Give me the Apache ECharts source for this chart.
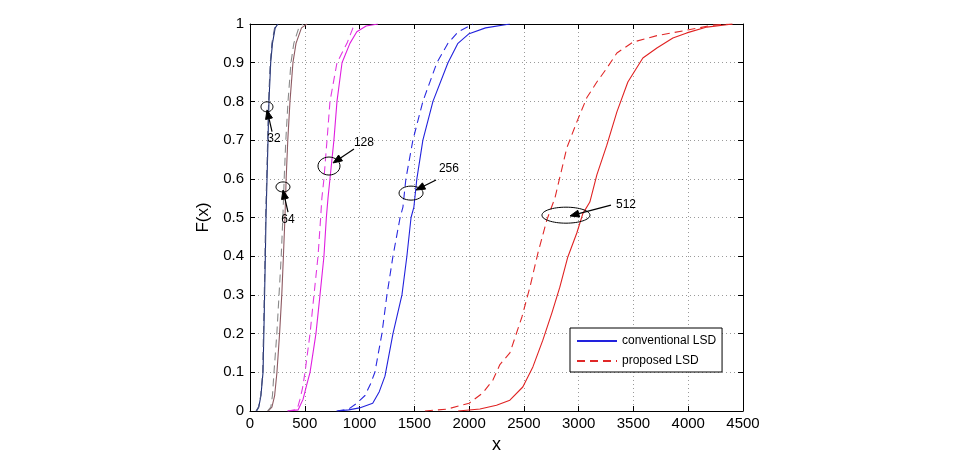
<!DOCTYPE html>
<html><head><meta charset="utf-8">
<script src="https://cdn.jsdelivr.net/npm/echarts@6/dist/echarts.min.js"></script>
<style>html,body{margin:0;padding:0;background:#fff}#c{width:964px;height:450px}</style>
</head><body><div id="c"></div><script>
// ---- data (x, F(x)) ----
const xTicks = [0,500,1000,1500,2000,2500,3000,3500,4000,4500];
const conv32 = [[60,0],[80,0.01],[100,0.04],[119,0.1],[130,0.25],[140,0.4],[146,0.5],[160,0.65],[173,0.8],[189,0.9],[205,0.95],[230,0.99],[255,1]];
const prop32 = [[55,0],[78,0.01],[98,0.04],[116,0.1],[127,0.25],[137,0.4],[143,0.5],[157,0.65],[170,0.8],[185,0.9],[200,0.95],[225,0.99],[250,1]];
const conv64 = [[165,0],[200,0.01],[225,0.04],[246,0.1],[270,0.2],[290,0.3],[305,0.4],[319,0.5],[330,0.6],[345,0.7],[365,0.8],[392,0.9],[420,0.95],[470,0.99],[520,1]];
const prop64 = [[160,0],[190,0.01],[205,0.04],[219,0.1],[245,0.2],[265,0.3],[285,0.4],[300,0.5],[312,0.6],[327,0.7],[347,0.8],[374,0.9],[400,0.95],[445,0.99],[485,1]];
const conv128 = [[347,0],[440,0.003],[484,0.03],[520,0.07],[548,0.1],[602,0.2],[639,0.3],[675,0.4],[697,0.5],[712,0.55],[730,0.6],[766,0.7],[794,0.8],[840,0.9],[912,0.95],[975,0.98],[1060,0.995],[1168,1]];
const prop128 = [[340,0],[430,0.004],[456,0.03],[480,0.06],[502,0.1],[548,0.2],[584,0.3],[621,0.4],[645,0.5],[656,0.55],[675,0.6],[703,0.7],[730,0.8],[794,0.9],[885,0.95],[940,0.99],[975,1]];
const conv256 = [[800,0],[900,0.003],[1000,0.008],[1120,0.02],[1180,0.05],[1232,0.09],[1305,0.2],[1387,0.3],[1432,0.4],[1470,0.5],[1496,0.527],[1523,0.6],[1578,0.7],[1670,0.8],[1807,0.9],[1898,0.95],[2000,0.975],[2150,0.99],[2372,1]];
const prop256 = [[790,0],[900,0.005],[975,0.02],[1050,0.04],[1100,0.07],[1140,0.1],[1204,0.2],[1250,0.3],[1305,0.4],[1370,0.5],[1396,0.527],[1423,0.6],[1487,0.7],[1578,0.8],[1706,0.9],[1807,0.95],[1900,0.98],[2035,1]];
const conv512 = [[1900,0],[2099,0.005],[2250,0.015],[2372,0.028],[2490,0.062],[2582,0.114],[2673,0.183],[2755,0.253],[2828,0.32],[2901,0.398],[2983,0.46],[3038,0.51],[3102,0.54],[3166,0.61],[3257,0.687],[3349,0.773],[3449,0.85],[3586,0.912],[3714,0.938],[3860,0.964],[3987,0.977],[4170,0.992],[4407,1]];
const prop512 = [[1597,0],[1800,0.005],[2000,0.02],[2126,0.047],[2217,0.08],[2281,0.12],[2372,0.15],[2482,0.243],[2555,0.32],[2628,0.408],[2710,0.494],[2783,0.55],[2892,0.68],[2983,0.747],[3075,0.81],[3166,0.85],[3257,0.886],[3349,0.925],[3495,0.953],[3714,0.97],[3987,0.984],[4224,0.997],[4400,1]];

// ---- annotations (data coordinates) ----
const annoLabels  = ['32','64','128','256','512'];
const annoCenter  = [[155,0.786],[301,0.579],[721,0.633],[1470,0.563],[2884,0.506]];
const annoTail    = [[201,0.722],[347,0.514],[949,0.677],[1698,0.597],[3295,0.532]];
const annoHead    = [[155,0.778],[301,0.571],[758,0.641],[1515,0.571],[2921,0.504]];
const annoText    = [[219,0.703],[347,0.494],[1040,0.693],[1816,0.625],[3432,0.532]];

const FONT = 'Liberation Sans, Arial, Helvetica, sans-serif';
const chart = echarts.init(document.getElementById('c'), null, {renderer:'canvas'});

function ln(name, data, color, dashed){
  return {
    name, type:'line', data, showSymbol:false, symbol:'none', animation:false,
    xAxisIndex:0, yAxisIndex:0,
    lineStyle:{color, width:1.1, type: dashed ? [8,5] : 'solid'},
    itemStyle:{color}
  };
}
const tickCommon = {show:true, inside:true, length:5, lineStyle:{color:'#000', width:1}};
const option = {
  backgroundColor:'#fff',
  animation:false,
  grid:{left:250, right:221, top:24, bottom:39, show:false, containLabel:false, outerBoundsMode:'none'},
  legend:{
    data:['conventional LSD','proposed LSD'],
    orient:'vertical', left:570, top:328, width:146,
    backgroundColor:'#fff', borderColor:'#000', borderWidth:1, borderRadius:0,
    padding:[7,6,5,6], itemGap:8, itemWidth:40, itemHeight:10,
    itemStyle:{opacity:0},
    textStyle:{fontFamily:FONT, fontSize:12, color:'#000'}
  },
  xAxis:[{
    type:'value', min:0, max:4500, interval:500, position:'bottom',
    name:'x', nameLocation:'middle', nameGap:19,
    nameTextStyle:{fontFamily:FONT, fontSize:18, color:'#000'},
    axisLine:{show:true, onZero:false, lineStyle:{color:'#000', width:1}},
    axisTick:tickCommon,
    axisLabel:{fontFamily:FONT, fontSize:15, color:'#000', margin:5,
      formatter:(v)=> xTicks.indexOf(v)>=0 ? String(v) : ''},
    splitLine:{show:true, lineStyle:{color:'#9a9a9a', width:1, type:[1,3]}}
  },{
    type:'value', min:0, max:4500, interval:500, position:'top',
    axisLine:{show:true, onZero:false, lineStyle:{color:'#000', width:1}},
    axisTick:tickCommon, axisLabel:{show:false}, splitLine:{show:false}
  }],
  yAxis:[{
    type:'value', min:0, max:1, interval:0.1, position:'left',
    name:'F(x)', nameLocation:'middle', nameGap:37,
    nameTextStyle:{fontFamily:FONT, fontSize:17, color:'#000'},
    axisLine:{show:true, onZero:false, lineStyle:{color:'#000', width:1}},
    axisTick:tickCommon,
    axisLabel:{fontFamily:FONT, fontSize:15, color:'#000', margin:6,
      formatter:(v)=> String(Math.round(v*10)/10)},
    splitLine:{show:true, lineStyle:{color:'#9a9a9a', width:1, type:[1,3]}}
  },{
    type:'value', min:0, max:1, interval:0.1, position:'right',
    axisLine:{show:true, onZero:false, lineStyle:{color:'#000', width:1}},
    axisTick:tickCommon, axisLabel:{show:false}, splitLine:{show:false}
  }],
  series:[
    ln('c32', conv32, '#1c2c74', false),
    ln('p32', prop32, '#4a5480', true),
    ln('c64', conv64, '#8e5a62', false),
    ln('p64', prop64, '#8a8a8a', true),
    ln('c128', conv128, '#e01ee0', false),
    ln('p128', prop128, '#e23ae2', true),
    ln('conventional LSD', conv256, '#2222dd', false),
    ln('p256', prop256, '#2a2ae0', true),
    ln('c512', conv512, '#e02222', false),
    ln('proposed LSD', prop512, '#e02828', true)
  ]
};
chart.setOption(option);

// annotations drawn from data coordinates
const annoRadius = [[6,5],[7,5],[11,9],[12,7],[24,8]];
const els = [];
const px = (p)=> chart.convertToPixel({xAxisIndex:0, yAxisIndex:0}, p);
for (let i=0;i<annoLabels.length;i++){
  const c = px(annoCenter[i]), t = px(annoTail[i]), h = px(annoHead[i]), tx = px(annoText[i]);
  els.push({type:'ellipse', shape:{cx:c[0], cy:c[1], rx:annoRadius[i][0], ry:annoRadius[i][1]},
    style:{fill:'none', stroke:'#000', lineWidth:1}, z:100});
  const dx = h[0]-t[0], dy = h[1]-t[1], L = Math.hypot(dx,dy), ux = dx/L, uy = dy/L;
  const hl = 9, hw = 3.5;
  const bx = h[0]-ux*hl, by = h[1]-uy*hl;
  els.push({type:'line', shape:{x1:t[0], y1:t[1], x2:bx, y2:by}, style:{stroke:'#000', lineWidth:1.2}, z:100});
  els.push({type:'polygon', shape:{points:[[h[0],h[1]],[bx-uy*hw, by+ux*hw],[bx+uy*hw, by-ux*hw]]},
    style:{fill:'#000', stroke:'#000'}, z:100});
  els.push({type:'text', x:tx[0], y:tx[1], style:{text:annoLabels[i], fontFamily:FONT, fontSize:12, fill:'#000',
    align:'center', verticalAlign:'middle'}, z:100});
}
chart.setOption({graphic:{elements:els}});
</script></body></html>
